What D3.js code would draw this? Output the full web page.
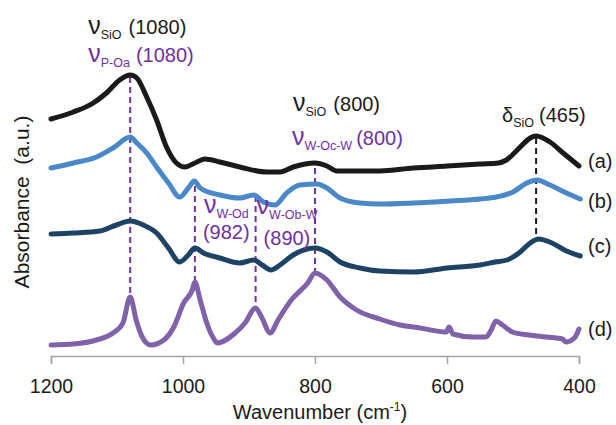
<!DOCTYPE html>
<html><head><meta charset="utf-8">
<script src="https://cdn.jsdelivr.net/npm/d3@7"></script>
<style>
html,body{margin:0;padding:0;background:#fff;}
svg{display:block;font-family:"Liberation Sans",Arial,Helvetica,sans-serif;}
</style></head>
<body>
<svg id="chart" width="616" height="425"></svg>
<script>
// ---- data (wavenumber cm-1, absorbance a.u. with vertical offsets) ----
const xTicks = [1200, 1000, 800, 600, 400];
const seriesLabels = ["(a)", "(b)", "(c)", "(d)"];
const seriesColors = ["#1a1a1a", "#4a88c8", "#1d4263", "#8062a8"];

const wnA = [1200,1166,1136,1116,1096,1080,1070,1055,1040,1025,1010,997,982,967,944,914,873,853,833,800,782,767,702,651,600,550,522,510,489,474,465,444,424,400];
const absA = [2.37,2.44,2.53,2.63,2.76,2.81,2.78,2.59,2.36,2.09,1.93,1.89,1.93,1.97,1.94,1.89,1.84,1.84,1.89,1.93,1.90,1.85,1.85,1.88,1.90,1.92,1.93,1.96,2.09,2.18,2.20,2.14,2.03,1.90];

const wnB = [1200,1166,1131,1106,1080,1070,1055,1040,1022,1005,992,983,974,944,914,893,878,861,843,823,797,782,762,732,702,651,595,550,525,500,479,464,444,419,398];
const absB = [1.88,1.93,1.99,2.08,2.19,2.13,2.03,1.89,1.73,1.59,1.68,1.75,1.68,1.61,1.58,1.61,1.54,1.51,1.63,1.71,1.72,1.68,1.58,1.53,1.52,1.53,1.55,1.57,1.59,1.64,1.73,1.76,1.71,1.63,1.57];

const wnC = [1200,1166,1126,1101,1080,1060,1040,1022,1005,992,982,969,944,914,893,880,867,853,833,800,782,762,732,702,651,600,550,527,509,489,474,461,441,419,398];
const absC = [1.22,1.23,1.25,1.31,1.35,1.31,1.23,1.08,0.94,1.01,1.08,1.03,0.98,0.93,0.96,0.91,0.86,0.91,1.01,1.08,1.04,0.94,0.88,0.85,0.84,0.88,0.91,0.94,0.96,1.04,1.13,1.17,1.13,1.05,1.00];

const wnD = [1200,1166,1131,1106,1091,1080,1071,1061,1049,1029,1014,999,986,982,974,964,954,948,921,906,890,881,868,856,836,811,800,782,762,737,702,671,641,601,597,591,561,541,533,526,516,501,476,450,425,420,407,400];
const absD = [0.11,0.12,0.16,0.23,0.33,0.59,0.36,0.18,0.11,0.16,0.29,0.53,0.66,0.74,0.56,0.33,0.18,0.13,0.23,0.33,0.48,0.39,0.23,0.36,0.56,0.73,0.83,0.76,0.59,0.46,0.37,0.31,0.28,0.24,0.29,0.22,0.19,0.19,0.26,0.35,0.31,0.24,0.21,0.19,0.17,0.14,0.18,0.27];

// marker (dashed) lines: wavenumber, top and bottom absorbance
const markWn = [1080, 982, 890, 800, 465];
const markTop = [2.79, 1.70, 1.60, 1.88, 2.18];
const markBottom = [0.60, 0.71, 0.48, 0.83, 1.18];
const markColors = ["#7030a0", "#7030a0", "#7030a0", "#7030a0", "#1a1a1a"];

// ---- layout ----
const svg = d3.select("#chart");
const x = d3.scaleLinear().domain([1200, 400]).range([51, 579]);
const y = d3.scaleLinear().domain([0, 3]).range([356, 56]);

const series = [
  {wn: wnA, v: absA}, {wn: wnB, v: absB}, {wn: wnC, v: absC}, {wn: wnD, v: absD}
];

// dashed markers (drawn under curves)
markWn.forEach((w, i) => {
  svg.append("line")
    .attr("x1", x(w)).attr("x2", x(w))
    .attr("y1", y(markTop[i])).attr("y2", y(markBottom[i]))
    .attr("stroke", markColors[i]).attr("stroke-width", 2)
    .attr("stroke-dasharray", "6,4");
});

const line = d3.line().x(d => x(d[0])).y(d => y(d[1])).curve(d3.curveMonotoneX);
series.forEach((s, i) => {
  const pts = s.wn.map((w, j) => [w, s.v[j]]);
  svg.append("path").attr("d", line(pts))
    .attr("fill", "none").attr("stroke", seriesColors[i])
    .attr("stroke-width", 5).attr("stroke-linejoin", "round").attr("stroke-linecap", "round");
});

// series labels
const labelBase = [168, 208, 253, 336];
seriesLabels.forEach((t, i) => {
  svg.append("text").attr("x", 588).attr("y", labelBase[i])
    .attr("font-size", 20).attr("fill", "#1a1a1a").text(t);
});

// axis
const axis = d3.axisBottom(x).tickValues(xTicks).tickSize(8).tickSizeOuter(8).tickPadding(15).tickFormat(d3.format("d"));
const gx = svg.append("g").attr("transform", "translate(0,356)").call(axis);
gx.select(".domain").attr("stroke", "#a6a6a6").attr("stroke-width", 1.5);
gx.selectAll(".tick line").attr("stroke", "#a6a6a6").attr("stroke-width", 1.5);
gx.selectAll(".tick text").attr("font-size", 19.5).attr("fill", "#1a1a1a")
  .attr("font-family", "Liberation Sans, Arial, sans-serif");

// axis titles
const xt = svg.append("text").attr("x", 320).attr("y", 419).attr("text-anchor", "middle")
  .attr("font-size", 20).attr("fill", "#1a1a1a");
xt.append("tspan").text("Wavenumber (cm");
xt.append("tspan").attr("font-size", 12).attr("dy", -8).text("-1");
xt.append("tspan").attr("dy", 8).text(")");

svg.append("text").attr("transform", "translate(29,202) rotate(-90)")
  .attr("text-anchor", "middle").attr("font-size", 21).attr("fill", "#1a1a1a")
  .style("white-space", "pre").text("Absorbance  (a.u.)");

// annotations
function annot(greek, sub, val, x0, base, color, valDx, valBase) {
  const t = svg.append("text").attr("x", x0).attr("y", base).attr("fill", color).attr("font-size", 20);
  t.append("tspan").attr("font-size", greek === "\u03bd" ? 25 : 20).text(greek);
  t.append("tspan").attr("font-size", 12.5).attr("dy", 5).text(sub);
  if (valBase === undefined) {
    t.append("tspan").attr("dy", -5).attr("dx", valDx).text(val);
  } else {
    svg.append("text").attr("x", x0 + valDx).attr("y", valBase).attr("fill", color)
      .attr("font-size", 20).text(val);
  }
}
const black = "#1a1a1a", purple = "#7030a0";
annot("\u03bd", "SiO", "(1080)", x(1080) - 42, 34, black, 7);
annot("\u03bd", "P-Oa", "(1080)", x(1080) - 42, 62, purple, 6);
annot("\u03bd", "SiO", "(800)", x(800) - 22, 111, black, 7);
annot("\u03bd", "W-Oc-W", "(800)", x(800) - 23, 145, purple, 4);
annot("\u03b4", "SiO", "(465)", x(465) - 34, 122, black, 5);
annot("\u03bd", "W-Od", "(982)", x(982) + 9, 213, purple, -1, 239);
annot("\u03bd", "W-Ob-W", "(890)", x(890) + 1, 214, purple, 7, 245);
</script>
</body></html>
